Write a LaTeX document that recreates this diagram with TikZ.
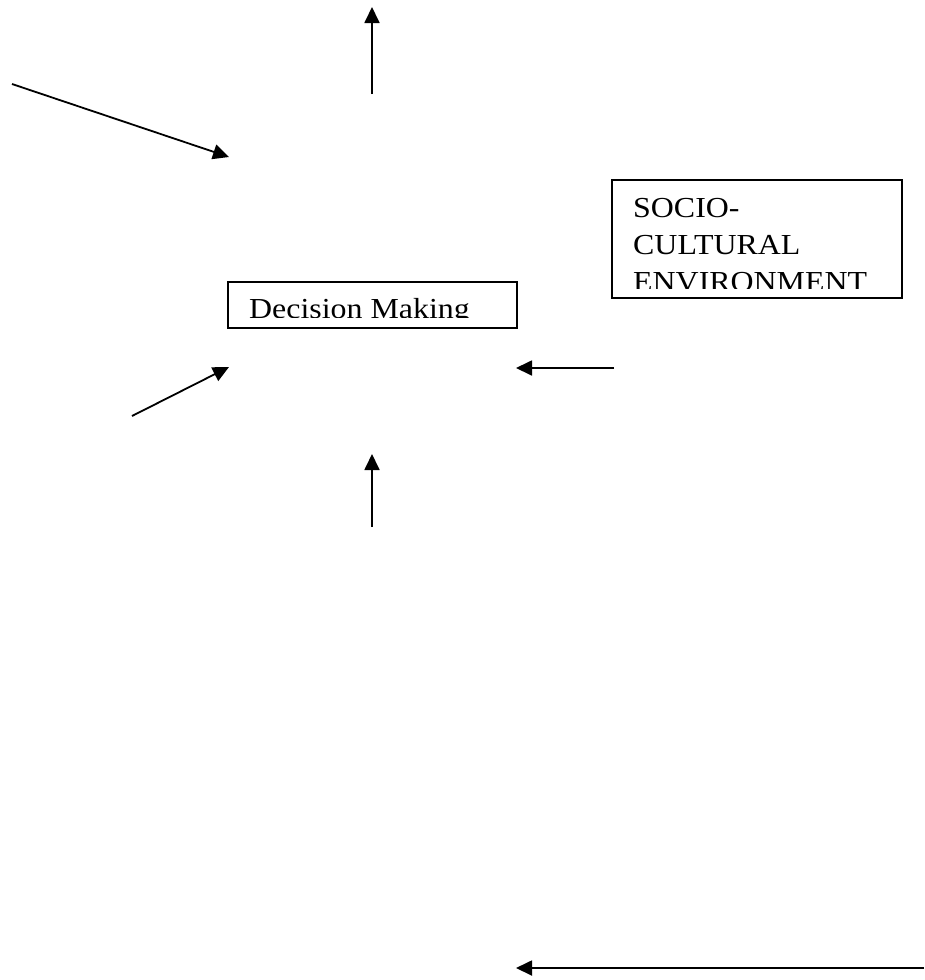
\documentclass[tikz,border=0pt]{standalone}
\usepackage{fontspec}
\setmainfont{Liberation Serif}
\usetikzlibrary{arrows.meta}
\newcommand{\widetext}[1]{\scalebox{1.1}[1]{#1}}
\tikzset{
    arr/.style={line width=1.8pt,
        -{Triangle[length=16pt,width=15pt]}},
    box/.style={draw,line width=1.4pt,inner sep=0pt},
    label/.style={font=\fontsize{29}{37}\selectfont,
        inner sep=0pt,align=left}
}
\begin{document}
\begin{tikzpicture}[x=1pt,y=-1pt]
\useasboundingbox (0,0) rectangle (924,980);
\coordinate (n1) at (372,94);
\coordinate (n2) at (372,7);
\coordinate (n3) at (12,84);
\coordinate (n4) at (229,157);
\coordinate (n5) at (614,368);
\coordinate (n6) at (516,368);
\coordinate (n7) at (132,416);
\coordinate (n8) at (229,367);
\coordinate (n9) at (372,527);
\coordinate (n10) at (372,454);
\coordinate (n11) at (924,968);
\coordinate (n12) at (516,968);
\node [box,minimum width=290pt,minimum height=118pt]
    (socio) at (757,239) {};
\node [box,minimum width=289pt,minimum height=46pt]
    (decision) at (372.5,305) {};
\begin{scope}
\clip ([yshift=10pt]socio.south west) rectangle (socio.north east);
\node [label,anchor=base west] (sociotext) at (633,217)
    {\widetext{SOCIO-}};
\node [label,anchor=base west] at (633,254)
    {\widetext{CULTURAL}};
\node [label,anchor=base west] at (633,291)
    {\widetext{ENVIRONMENT}};
\end{scope}
\begin{scope}
\clip ([yshift=11pt]decision.south west) rectangle (decision.north east);
\node [label,anchor=base west] (decisiontext) at (249,318)
    {\widetext{Decision Making}};
\end{scope}
\draw [arr] (n1) -- (n2);
\draw [arr] (n3) -- (n4);
\draw [arr] (n5) -- (n6);
\draw [arr] (n7) -- (n8);
\draw [arr] (n9) -- (n10);
\draw [arr] (n11) -- (n12);
\end{tikzpicture}
\end{document}
